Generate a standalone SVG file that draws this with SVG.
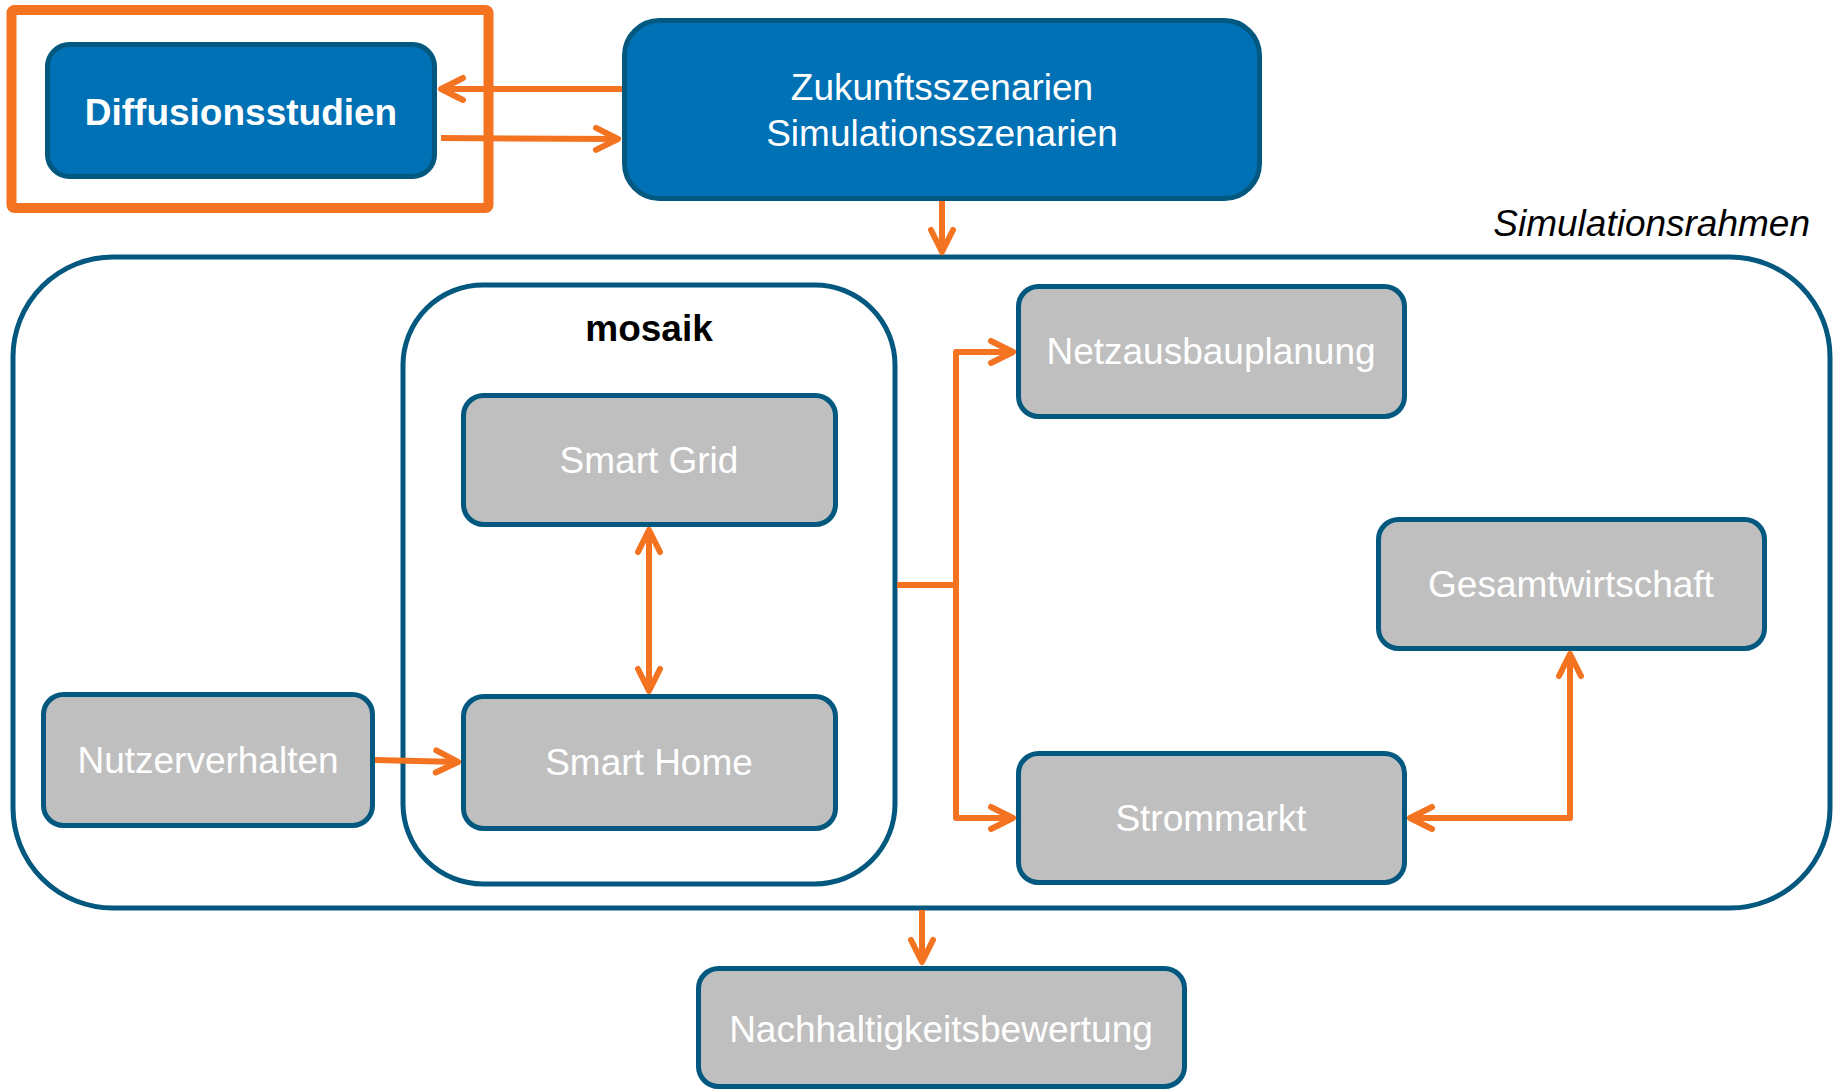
<svg xmlns="http://www.w3.org/2000/svg" width="1841" height="1092" viewBox="0 0 1841 1092">
<defs>
<style>
.blue{fill:#0071B5;stroke:#03587F;stroke-width:5}
.gray{fill:#BFBFBF;stroke:#03587F;stroke-width:5}
.cont{fill:none;stroke:#03587F;stroke-width:5}
.t{font-family:"Liberation Sans",Arial,sans-serif;font-size:37px;fill:#FFFFFF;text-anchor:middle}
.b{font-weight:bold}
.k{fill:#000000}
.c{fill:none;stroke:#F47321;stroke-width:6;stroke-linecap:butt;stroke-linejoin:round}
</style>
<marker id="ah" viewBox="-28 -15 32 30" refX="0" refY="0" markerWidth="32" markerHeight="30" markerUnits="userSpaceOnUse" orient="auto-start-reverse">
<path d="M-22,-11 L0,0 L-22,11" fill="none" stroke="#F47321" stroke-width="6" stroke-linecap="round" stroke-linejoin="round"/>
</marker>
</defs>
<rect width="1841" height="1092" fill="#FFFFFF"/>

<g id="simulationsrahmen">
<rect class="cont" x="13" y="257" width="1817" height="651" rx="100" ry="100"/>
<text class="t k" x="1810" y="236" style="text-anchor:end;font-style:italic">Simulationsrahmen</text>
</g>

<g id="mosaik">
<rect class="cont" x="403" y="285" width="492" height="599" rx="80" ry="80"/>
<text class="t b k" x="649" y="341">mosaik</text>
</g>

<g id="highlight">
<rect x="11.5" y="10" width="477" height="198" rx="3" fill="none" stroke="#F47321" stroke-width="10"/>
</g>

<g id="diffusionsstudien">
<rect class="blue" x="47.5" y="44.5" width="387" height="132" rx="22"/>
<text class="t b" x="241" y="125">Diffusionsstudien</text>
</g>

<g id="zukunftsszenarien">
<rect class="blue" x="624.5" y="20.5" width="635" height="178" rx="35"/>
<text class="t" x="942" y="100">Zukunftsszenarien</text>
<text class="t" x="942" y="146">Simulationsszenarien</text>
</g>

<g id="smart-grid">
<rect class="gray" x="463.5" y="395.5" width="372" height="129" rx="20"/>
<text class="t" x="649" y="473">Smart Grid</text>
</g>

<g id="smart-home">
<rect class="gray" x="463.5" y="696.5" width="372" height="132" rx="20"/>
<text class="t" x="649" y="775">Smart Home</text>
</g>

<g id="nutzerverhalten">
<rect class="gray" x="43.5" y="694.5" width="329" height="131" rx="20"/>
<text class="t" x="208" y="773">Nutzerverhalten</text>
</g>

<g id="netzausbauplanung">
<rect class="gray" x="1018.5" y="286.5" width="386" height="130" rx="20"/>
<text class="t" x="1211" y="364">Netzausbauplanung</text>
</g>

<g id="gesamtwirtschaft">
<rect class="gray" x="1378.5" y="519.5" width="386" height="129" rx="20"/>
<text class="t" x="1571" y="597">Gesamtwirtschaft</text>
</g>

<g id="strommarkt">
<rect class="gray" x="1018.5" y="753.5" width="386" height="129" rx="20"/>
<text class="t" x="1211" y="831">Strommarkt</text>
</g>

<g id="nachhaltigkeitsbewertung">
<rect class="gray" x="698.5" y="968.5" width="486" height="118" rx="20"/>
<text class="t" x="941" y="1042">Nachhaltigkeitsbewertung</text>
</g>

<g id="connectors">
<path class="c" d="M622,89 L441,89" marker-end="url(#ah)"/>
<path class="c" d="M441,138 L618,139" marker-end="url(#ah)"/>
<path class="c" d="M942,201 L942,252" marker-end="url(#ah)"/>
<path class="c" d="M649,530 L649,691" marker-start="url(#ah)" marker-end="url(#ah)"/>
<path class="c" d="M375,760 L458,762" marker-end="url(#ah)"/>
<path class="c" d="M897,585 L956,585"/>
<path class="c" d="M956,588 L956,352 L1013,352" marker-end="url(#ah)"/>
<path class="c" d="M956,582 L956,818 L1013,818" marker-end="url(#ah)"/>
<path class="c" d="M1410,818 L1570,818 L1570,654" marker-start="url(#ah)" marker-end="url(#ah)"/>
<path class="c" d="M922,910 L922,962" marker-end="url(#ah)"/>
</g>
</svg>
